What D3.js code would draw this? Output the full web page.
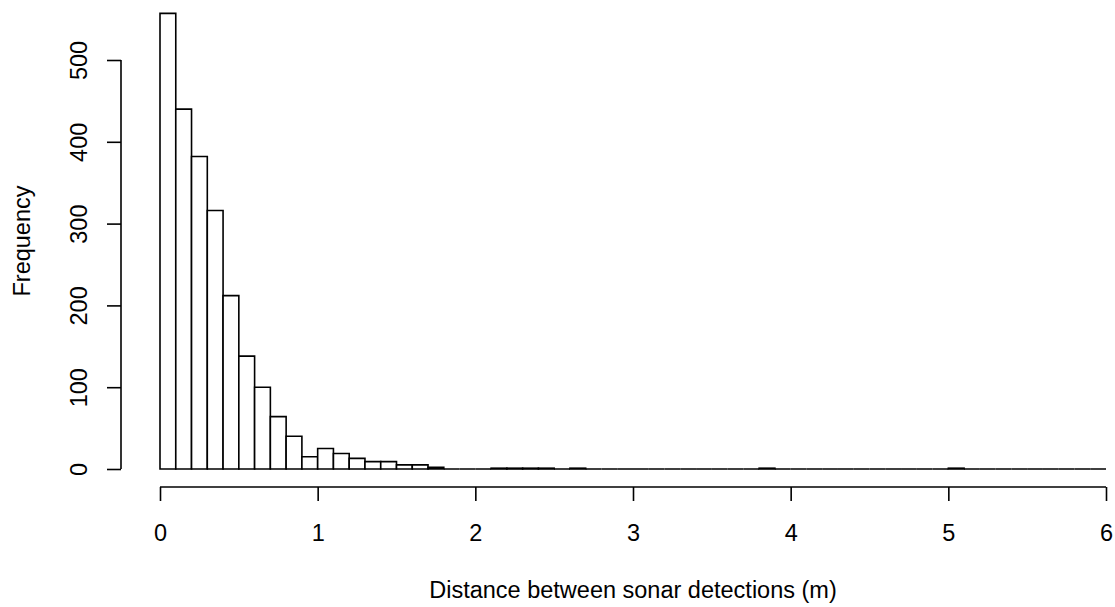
<!DOCTYPE html>
<html>
<head>
  <title>hist</title>
  <script src="https://d3js.org/d3.v7.min.js"></script>
  <style>
    body { margin: 0; background: #fff; }
    text { font-family: "Liberation Sans", Arial, sans-serif; fill: #000; }
  </style>
</head>
<body>
  <svg width="1115" height="607" id="mainsvg"></svg>
  <script>
    // histogram bins: 0.1 m wide, from 0 to 6
    const binWidth = 0.1;
    const counts = [
      557, 440, 382, 316, 212, 138, 100, 64, 40, 15,
      25, 19, 13, 9, 9, 5, 5, 2, 0, 0,
      0, 1, 1, 1, 1, 0, 1, 0, 0, 0,
      0, 0, 0, 0, 0, 0, 0, 0, 1, 0,
      0, 0, 0, 0, 0, 0, 0, 0, 0, 0,
      1, 0, 0, 0, 0, 0, 0, 0, 0, 0
    ];
    const xTicks = [0, 1, 2, 3, 4, 5, 6];
    const yTicks = [0, 100, 200, 300, 400, 500];
    const xTitle = 'Distance between sonar detections (m)';
    const yTitle = 'Frequency';

    const fontSize = '23.5px';
    const svg = d3.select('#mainsvg');
    const x = d3.scaleLinear().domain([0, 6]).range([160, 1106]);
    const y = d3.scaleLinear().domain([0, 500]).range([469, 60]);

    // bars (paths so that empty bins still draw along the baseline)
    svg.append('g').selectAll('path').data(counts)
      .enter().append('path')
      .attr('d', (d, i) => {
        const x0 = x(i * binWidth), x1 = x((i + 1) * binWidth);
        return `M${x0},${y(0)}H${x1}V${y(d)}H${x0}Z`;
      })
      .attr('fill', 'white')
      .attr('stroke', 'black')
      .attr('stroke-width', 1.6);

    // x axis, offset below the plot like R
    const xAxis = svg.append('g')
      .attr('transform', 'translate(0,487)')
      .call(d3.axisBottom(x).tickValues(xTicks).tickSize(14).tickPadding(23).tickFormat(d3.format('d')));

    // y axis, offset left
    const yAxis = svg.append('g')
      .attr('transform', 'translate(121,0)')
      .call(d3.axisLeft(y).tickValues(yTicks).tickSize(14).tickFormat(d3.format('d')));

    [xAxis, yAxis].forEach(g => {
      g.select('.domain').attr('stroke', 'black').attr('stroke-width', 1.6);
      g.selectAll('.tick line').attr('stroke', 'black').attr('stroke-width', 1.6);
      g.selectAll('text').style('font-size', fontSize).style('font-family', '"Liberation Sans", Arial, sans-serif');
    });
    xAxis.select('.domain').attr('d', `M${x(0)},0H${x(6)}`);
    yAxis.select('.domain').attr('d', `M0,${y(0)}V${y(500)}`);

    // rotate y tick labels (R style, las = 0)
    yAxis.selectAll('.tick text')
      .attr('x', null).attr('dy', null)
      .attr('transform', 'translate(-34,0) rotate(-90)')
      .attr('text-anchor', 'middle');

    svg.append('text')
      .attr('x', x(3))
      .attr('y', 598)
      .attr('text-anchor', 'middle')
      .style('font-size', fontSize)
      .text(xTitle);

    svg.append('text')
      .attr('transform', 'translate(30,241) rotate(-90)')
      .attr('text-anchor', 'middle')
      .style('font-size', fontSize)
      .text(yTitle);
  </script>
</body>
</html>
